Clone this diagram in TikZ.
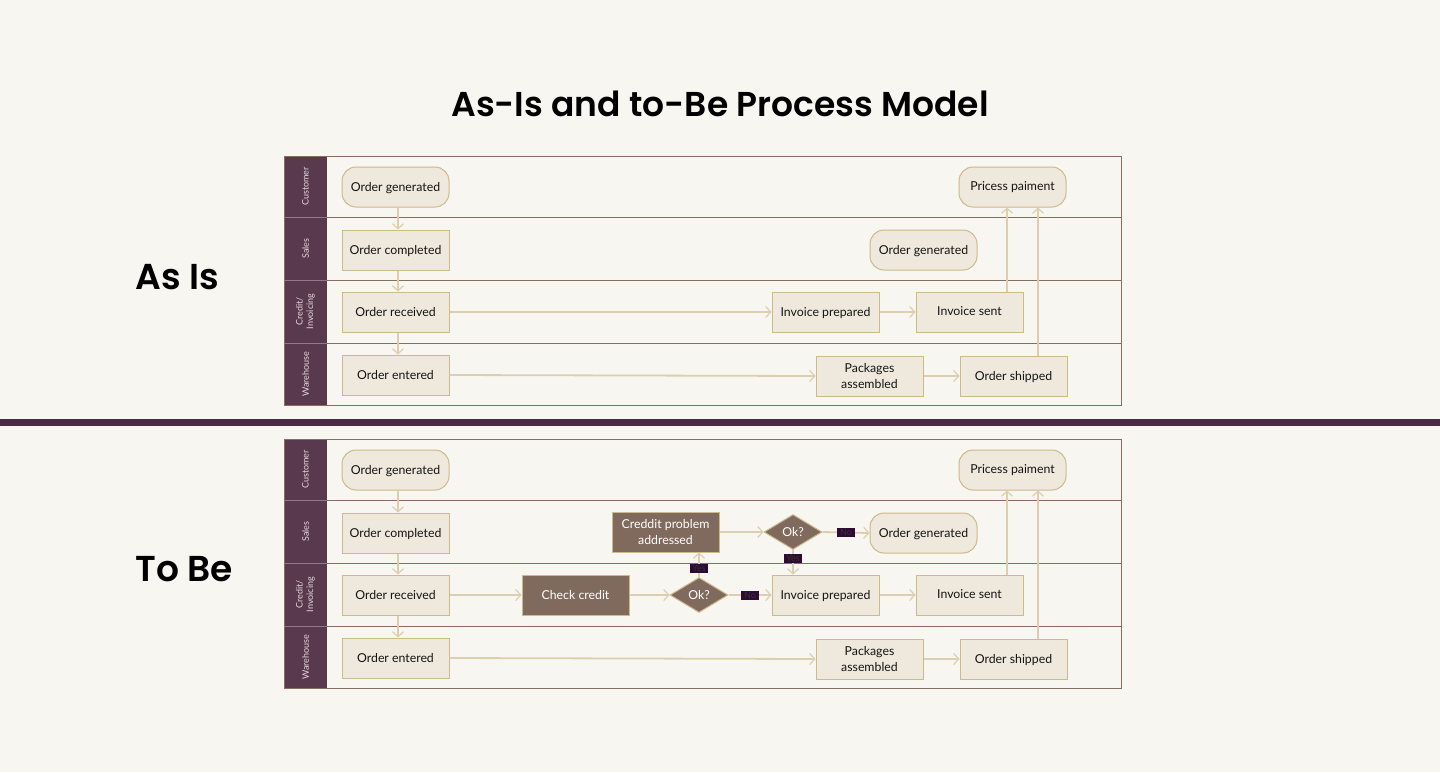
\documentclass[tikz,border=0pt]{standalone}
\usepackage{fontspec}
\setmainfont{Lato}
\newfontfamily\titlefont{Poppins}[UprightFont=* SemiBold,BoldFont=* Bold]
\usetikzlibrary{arrows.meta,shapes.geometric}
\definecolor{bgc}{HTML}{F8F6F1}
\definecolor{boxfill}{HTML}{EFE8DC}
\definecolor{boxline}{HTML}{CDB98A}
\definecolor{laneline}{HTML}{8A6C5E}
\definecolor{lanefill}{HTML}{59394D}
\definecolor{arrowc}{HTML}{DDCFAE}
\definecolor{darkbox}{HTML}{806A5E}
\definecolor{barc}{HTML}{4A2A45}
\definecolor{tagfill}{HTML}{2D0B35}
\definecolor{lanetext}{HTML}{E6D8E0}
\begin{document}
\begin{tikzpicture}[x=1pt,y=-1pt,
  every node/.style={font=\fontsize{12.3}{16}\selectfont, text=black!92},
  proc/.style={draw=boxline, line width=1pt, fill=boxfill, minimum width=107pt, minimum height=40pt, inner sep=1pt, align=center, text depth=1pt},
  term/.style={proc, rounded corners=14pt},
  dproc/.style={proc, fill=darkbox, text=white},
  dec/.style={diamond, draw=boxline, line width=1pt, fill=darkbox, text=white, minimum width=58pt, minimum height=35pt, inner sep=0pt, aspect=1.7},
  flow/.style={draw=arrowc, line width=1.8pt, -{Straight Barb[length=5pt,width=11pt,line width=1.2pt]}},
  tag/.style={fill=tagfill, text=black!80, inner sep=1pt, font=\fontsize{9}{10}\selectfont, minimum width=18pt, minimum height=9pt},
  lanelab/.style={rotate=90, text=lanetext, font=\fontsize{9}{10.5}\selectfont, align=center},
  heading/.style={font=\titlefont\fontsize{36}{42}\selectfont, text=black}
]
\useasboundingbox (0,0) rectangle (1440,772);
\fill[bgc] (0,0) rectangle (1440,772);

\node[heading, font=\titlefont\fontsize{34.5}{40}\selectfont] (title) at (720,104) {As-Is and to-Be Process Model};
\node[heading, anchor=west] (asis) at (132,277) {As Is};
\node[heading, anchor=west] (tobe) at (132,569) {To Be};

\fill[barc] (0,419) rectangle (1440,426);

% ---------- pools ----------
\foreach \t in {156,439}{
  \fill[lanefill] (284,\t) rectangle (327,\t+249);
  \draw[laneline, line width=1pt] (284,\t) rectangle (1121,\t+249);
  \draw[laneline, line width=1pt] (327,\t+61) -- (1121,\t+61);
  \draw[laneline, line width=1pt] (327,\t+124) -- (1121,\t+124);
  \draw[laneline, line width=1pt] (327,\t+187) -- (1121,\t+187);
  \draw[lanetext!40!lanefill, line width=0.6pt] (284,\t+61) -- (327,\t+61) (284,\t+124) -- (327,\t+124) (284,\t+187) -- (327,\t+187);
  \node[lanelab] at (305.5,\t+30.5) {Customer};
  \node[lanelab] at (305.5,\t+92.5) {Sales};
  \node[lanelab] at (305.5,\t+155.5) {Credit/\\Invoicing};
  \node[lanelab] at (305.5,\t+218) {Warehouse};
}

% ---------- As Is ----------
\node[term] (a1) at (395.5,187) {Order generated};
\node[proc] (a2) at (395.5,250) {Order completed};
\node[proc] (a3) at (395.5,312) {Order received};
\node[proc] (a4) at (395.5,375) {Order entered};
\node[proc] (a5) at (825.5,312) {Invoice prepared};
\node[proc] (a6) at (969.5,312) {Invoice sent};
\node[proc] (a7) at (869.5,376) {Packages\\assembled};
\node[proc] (a8) at (1013.5,376) {Order shipped};
\node[term] (a9) at (1012.5,187) {Pricess paiment};
\node[term] (a10) at (923.5,250) {Order generated};

\draw[flow] ([xshift=2.5]a1.south) -- ([xshift=2.5]a2.north);
\draw[flow] ([xshift=2.5]a2.south) -- ([xshift=2.5]a3.north);
\draw[flow] ([xshift=2.5]a3.south) -- ([xshift=2.5]a4.north);
\draw[flow] (a3.east) -- (a5.west);
\draw[flow] (a5.east) -- (a6.west);
\draw[flow] (a4.east) -- (a7.west);
\draw[flow] (a7.east) -- (a8.west);
\draw[flow] ([xshift=37.5]a6.north) -- ([xshift=-5.5]a9.south);
\draw[flow] ([xshift=24.5]a8.north) -- ([xshift=25.5]a9.south);

% ---------- To Be ----------
\node[term] (b1) at (395.5,470) {Order generated};
\node[proc] (b2) at (395.5,533) {Order completed};
\node[proc] (b3) at (395.5,595) {Order received};
\node[proc] (b4) at (395.5,658) {Order entered};
\node[dproc] (b5) at (575.5,595) {Check credit};
\node[dec] (b6) at (699,595) {Ok?};
\node[proc] (b7) at (825.5,595) {Invoice prepared};
\node[proc] (b8) at (969.5,595) {Invoice sent};
\node[dproc] (b9) at (665.5,532) {Creddit problem\\addressed};
\node[dec] (b10) at (793,532) {Ok?};
\node[term] (b11) at (923.5,533) {Order generated};
\node[proc] (b12) at (869.5,659) {Packages\\assembled};
\node[proc] (b13) at (1013.5,659) {Order shipped};
\node[term] (b14) at (1012.5,470) {Pricess paiment};

\draw[flow] ([xshift=2.5]b1.south) -- ([xshift=2.5]b2.north);
\draw[flow] ([xshift=2.5]b2.south) -- ([xshift=2.5]b3.north);
\draw[flow] ([xshift=2.5]b3.south) -- ([xshift=2.5]b4.north);
\draw[flow] (b3.east) -- (b5.west);
\draw[flow] (b5.east) -- (b6.west);
\draw[flow] (b6.east) -- node[tag] (t1) {No} (b7.west);
\draw[flow] (b6.north) -- node[tag, pos=0.35] (t2) {Yes} (b6.north |- b9.south);
\draw[flow] (b9.east) -- (b10.west);
\draw[flow] (b10.east) -- node[tag] (t3) {No} (b11.west);
\draw[flow] (b10.south) -- node[tag, pos=0.35] (t4) {Yes} (b10.south |- b7.north);
\draw[flow] (b4.east) -- (b12.west);
\draw[flow] (b12.east) -- (b13.west);
\draw[flow] (b7.east) -- (b8.west);
\draw[flow] ([xshift=37.5]b8.north) -- ([xshift=-5.5]b14.south);
\draw[flow] ([xshift=24.5]b13.north) -- ([xshift=25.5]b14.south);
\end{tikzpicture}
\end{document}
